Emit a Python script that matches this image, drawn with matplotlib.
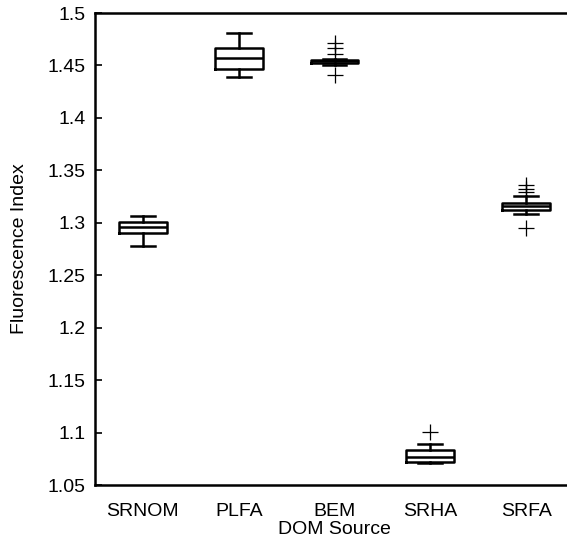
import matplotlib
matplotlib.use("Agg")
import matplotlib.pyplot as plt

plt.rcParams['font.family'] = ['Liberation Sans', 'DejaVu Sans']

categories = ["SRNOM", "PLFA", "BEM", "SRHA", "SRFA"]
whisker_low = [1.2775, 1.4389, 1.4505, 1.0705, 1.308]
q1 = [1.2905, 1.4465, 1.4525, 1.0720, 1.312]
median = [1.2955, 1.4570, 1.4545, 1.0765, 1.316]
q3 = [1.3010, 1.4666, 1.4555, 1.0830, 1.319]
whisker_high = [1.3060, 1.4809, 1.4565, 1.0895, 1.326]
outliers = [[], [], [1.4715, 1.4670, 1.4605, 1.4405], [1.1005], [1.3360, 1.3320, 1.3290, 1.2950]]
y_ticks = [1.05, 1.1, 1.15, 1.2, 1.25, 1.3, 1.35, 1.4, 1.45, 1.5]

stats = []
for i, name in enumerate(categories):
    stats.append(dict(label=name, whislo=whisker_low[i], q1=q1[i], med=median[i],
                      q3=q3[i], whishi=whisker_high[i], fliers=outliers[i]))

fig = plt.figure(figsize=(5.67, 5.41), dpi=100)
ax = fig.add_axes([95/567, 56/541, 479/567, 472/541])

lw = 1.8
ax.bxp(stats, positions=range(1, 6), widths=0.5,
       boxprops=dict(color='black', linewidth=lw),
       medianprops=dict(color='black', linewidth=lw),
       whiskerprops=dict(color='black', linewidth=lw, linestyle='-'),
       capprops=dict(color='black', linewidth=lw),
       capwidths=0.25,
       flierprops=dict(marker='+', markeredgecolor='black', markersize=12,
                       markeredgewidth=0.9, linestyle='none'))

ax.set_xlim(0.5, 5.5)
ax.set_ylim(1.05, 1.5)
ax.set_yticks(y_ticks)
ax.set_yticklabels([f"{t:g}" for t in y_ticks])
ax.set_xticks(range(1, 6))
ax.set_xticklabels(categories)
ax.tick_params(axis='y', direction='in', length=5, width=1.2, labelsize=14, pad=7)
ax.tick_params(axis='x', length=0, labelsize=14, pad=13)
ax.spines['right'].set_visible(False)
for s in ['left', 'top', 'bottom']:
    ax.spines[s].set_linewidth(1.8)
    ax.spines[s].set_color('black')

ax.set_xlabel("DOM Source", fontsize=14, labelpad=1)
ax.set_ylabel("Fluorescence Index", fontsize=14, labelpad=14)

fig.savefig("out.png", dpi=100)
